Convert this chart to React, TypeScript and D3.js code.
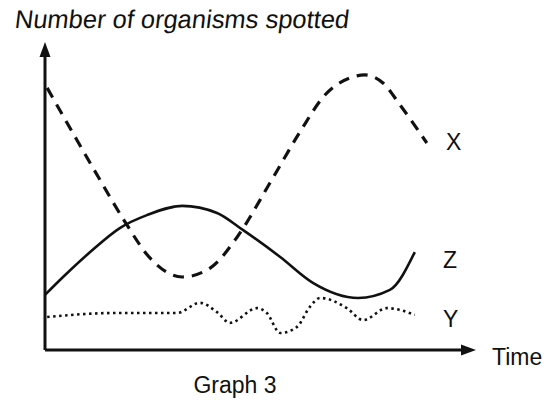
import React from "react";
import * as d3 from "d3";

const seriesXTime = [0.5, 7, 12.8, 18.6, 24.4, 31.9, 38.4, 44.7, 52.3, 59.3, 65.1, 70.9, 74.4, 78.6, 82.6, 88.8];
const seriesXCount = [85.1, 69.2, 55.2, 41.6, 29.9, 23.7, 26.6, 36.7, 54.2, 70.8, 82.8, 88.3, 89.3, 86.7, 79.5, 67.2];

const seriesZTime = [0, 4.2, 10.5, 17.4, 23.7, 31.9, 40, 46, 54.7, 62.3, 72.8, 80.2, 86];
const seriesZCount = [17.9, 23.7, 31.8, 39.6, 43.8, 46.8, 44.5, 39, 30.2, 21.8, 16.9, 19.5, 31.8];

const seriesYTime = [0.5, 15.8, 30.7, 36, 40, 43, 49.3, 51.6, 54.7, 58.6, 61.6, 64, 70.2, 74, 79.5, 86];
const seriesYCount = [10.7, 12, 12, 15.3, 12.3, 8.8, 13.6, 12, 5.5, 7.5, 14, 16.9, 13.6, 9.7, 13.6, 11.4];

const seriesLabels = ["X", "Z", "Y"];
const yAxisTitle = "Number of organisms spotted";
const xAxisTitle = "Time";
const chartCaption = "Graph 3";

export default function App() {
  const W = 555, H = 405;
  const x = d3.scaleLinear().domain([0, 100]).range([45, 475]);
  const y = d3.scaleLinear().domain([0, 100]).range([350, 42]);
  const line = d3
    .line<[number, number]>()
    .x((d) => x(d[0]))
    .y((d) => y(d[1]))
    .curve(d3.curveMonotoneX);
  const zip = (a: number[], b: number[]) => a.map((v, i) => [v, b[i]] as [number, number]);
  const font = "'Liberation Sans', Arial, Helvetica, sans-serif";
  const x0 = x(0), y0 = y(0);
  return (
    <svg width={W} height={H} style={{ position: "absolute", left: 0, top: 0, background: "#fff" }}>
      <rect width={W} height={H} fill="#fff" />
      <g transform="translate(14,28) skewX(-7)">
        <text x={0} y={0} fontFamily={font} fontSize={25.5} fill="#111">{yAxisTitle}</text>
      </g>
      {/* axes */}
      <line x1={x0} y1={y0} x2={x0} y2={52} stroke="#111" strokeWidth={3} />
      <path d={`M${x0},42 L${x0 - 5.5},57 L${x0 + 5.5},57 Z`} fill="#111" />
      <line x1={x0} y1={y0} x2={465} y2={y0} stroke="#111" strokeWidth={3} />
      <path d={`M476,${y0} L461,${y0 - 5.5} L461,${y0 + 5.5} Z`} fill="#111" />
      {/* series */}
      <path d={line(zip(seriesXTime, seriesXCount)) || ""} fill="none" stroke="#111" strokeWidth={3.2} strokeDasharray="11,8" />
      <path d={line(zip(seriesZTime, seriesZCount)) || ""} fill="none" stroke="#111" strokeWidth={2.6} />
      <path d={line(zip(seriesYTime, seriesYCount)) || ""} fill="none" stroke="#111" strokeWidth={2.6} strokeDasharray="2.5,3.5" />
      {/* labels */}
      <text x={446} y={150} fontFamily={font} fontSize={23} fill="#111">{seriesLabels[0]}</text>
      <text x={443} y={268} fontFamily={font} fontSize={23} fill="#111">{seriesLabels[1]}</text>
      <text x={443} y={327} fontFamily={font} fontSize={23} fill="#111">{seriesLabels[2]}</text>
      <text x={492} y={365} fontFamily={font} fontSize={23} fill="#111">{xAxisTitle}</text>
      <text x={235} y={393} textAnchor="middle" fontFamily={font} fontSize={23} fill="#111">{chartCaption}</text>
    </svg>
  );
}
